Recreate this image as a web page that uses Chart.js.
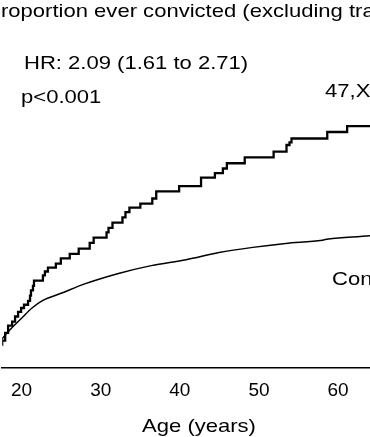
<!DOCTYPE html>
<html>
<head>
<meta charset="utf-8">
<script src="https://cdn.jsdelivr.net/npm/chart.js@4"></script>
<style>
  html, body { margin: 0; padding: 0; background: #fff; }
  #wrap { width: 370px; height: 437px; position: relative; overflow: hidden; }
  canvas { display: block; }
</style>
</head>
<body>
<div id="wrap"><canvas id="c" width="370" height="437"></canvas></div>
<script>
// ---- data ----
const xxyAge  = [15.54, 17.55, 17.93, 18.30, 18.81, 19.18, 19.56, 19.94, 20.31, 20.82, 21.07, 21.19, 21.44, 21.57,
                 22.70, 22.95, 23.33, 24.33, 24.96, 26.09, 27.22, 28.61, 29.11, 30.74, 30.99, 31.49, 32.75, 33.13,
                 33.63, 35.01, 36.52, 37.02, 39.91, 42.68, 44.43, 45.44, 45.94, 48.20, 51.85, 53.48, 53.86, 54.11,
                 58.63, 61.14, 65.29];
const xxyProp = [0.036, 0.042, 0.054, 0.065, 0.071, 0.079, 0.086, 0.092, 0.097, 0.103, 0.111, 0.119, 0.126, 0.134,
                 0.142, 0.148, 0.154, 0.160, 0.168, 0.175, 0.183, 0.192, 0.200, 0.208, 0.215, 0.223, 0.231, 0.239,
                 0.246, 0.252, 0.260, 0.271, 0.279, 0.292, 0.299, 0.306, 0.314, 0.323, 0.332, 0.342, 0.346, 0.352,
                 0.362, 0.371, 0.371];
const ctrlAge  = [15.54, 16.55, 17.55, 18.81, 20.06, 21.32, 22.58, 25.09, 27.98, 32.25, 36.39, 40.79, 44.94,
                  49.21, 53.35, 58.00, 58.76, 64.03, 65.29];
const ctrlProp = [0.014, 0.029, 0.045, 0.062, 0.077, 0.092, 0.103, 0.115, 0.129, 0.145, 0.157, 0.166, 0.177,
                  0.185, 0.191, 0.196, 0.198, 0.203, 0.205];
const xTicks = [20, 30, 40, 50, 60];
const titleText = "Proportion ever convicted (excluding traffic offences)";
const hrText = "HR: 2.09 (1.61 to 2.71)";
const pText = "p<0.001";
const xxyLabel = "47,XXY";
const ctrlLabel = "Controls";
const xTitle = "Age (years)";

const FONT = '"Liberation Sans", Arial, Helvetica, sans-serif';

const textPlugin = {
  id: 'texts',
  afterDraw(chart) {
    const ctx = chart.ctx;
    const sx = 1.16;
    function put(t, x, y, align) {
      ctx.save();
      ctx.font = '19px ' + FONT;
      ctx.fillStyle = '#000';
      ctx.textBaseline = 'alphabetic';
      const w = ctx.measureText(t).width * sx;
      let x0 = x;
      if (align === 'center') x0 = x - w / 2;
      ctx.translate(x0, y);
      ctx.scale(sx, 1);
      ctx.textAlign = 'left';
      ctx.fillText(t, 0, 0);
      ctx.restore();
    }
    ctx.save();
    ctx.font = '19px ' + FONT;
    const pw = ctx.measureText('P').width * sx;
    ctx.restore();
    put(titleText, 1 - pw, 17);
    put(hrText, 24, 69);
    put(pText, 21, 102.5);
    put(xxyLabel, 325, 97);
    put(ctrlLabel, 332, 285);
    put(xTitle, 199, 431.5, 'center');
  }
};

new Chart(document.getElementById('c'), {
  type: 'line',
  data: {
    datasets: [
      {
        label: xxyLabel,
        data: xxyAge.map((a, i) => ({x: a, y: xxyProp[i]})),
        borderColor: '#000',
        borderWidth: 2.3,
        stepped: true,
        pointRadius: 0,
        fill: false
      },
      {
        label: ctrlLabel,
        data: ctrlAge.map((a, i) => ({x: a, y: ctrlProp[i]})),
        borderColor: '#000',
        borderWidth: 1.5,
        cubicInterpolationMode: 'monotone',
        pointRadius: 0,
        fill: false
      }
    ]
  },
  options: {
    responsive: false,
    animation: false,
    events: [],
    layout: { padding: { top: 42, bottom: 24.2, left: 0, right: 0 } },
    plugins: { legend: { display: false }, title: { display: false }, tooltip: { enabled: false } },
    scales: {
      x: {
        type: 'linear',
        min: 17.55,
        max: 64.03,
        grid: { display: false, drawTicks: false },
        border: { display: true, color: '#000', width: 1.4 },
        afterBuildTicks: (scale) => { scale.ticks = xTicks.map(v => ({value: v})); },
        ticks: {
          padding: 11,
          color: '#000',
          maxRotation: 0,
          autoSkip: false,
          font: { family: FONT, size: 19 }
        }
      },
      y: {
        display: false,
        min: 0,
        max: 0.5
      }
    }
  },
  plugins: [textPlugin]
});
</script>
</body>
</html>
